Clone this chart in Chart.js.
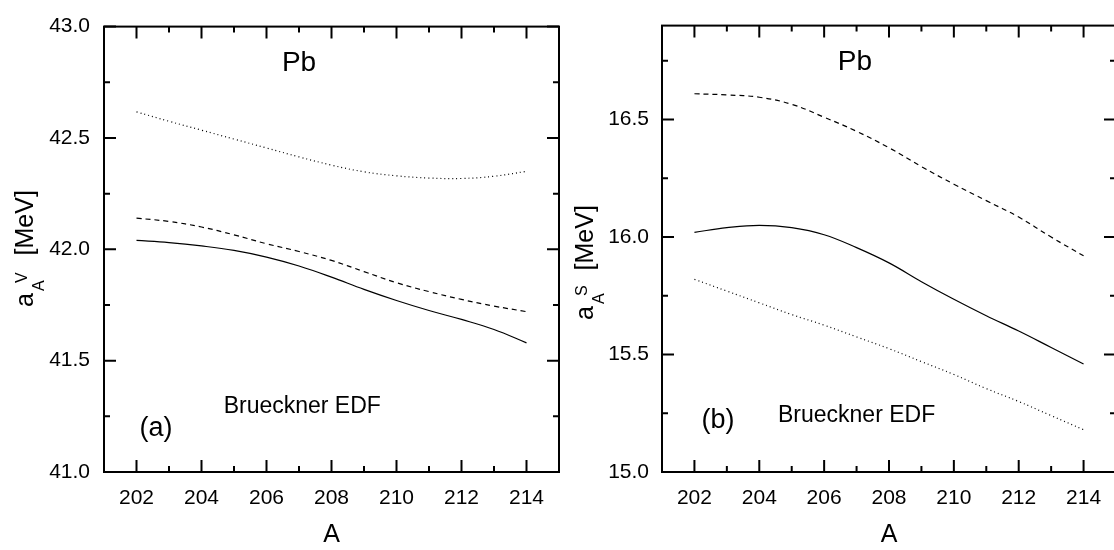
<!DOCTYPE html>
<html>
<head>
<meta charset="utf-8">
<script src="https://cdn.jsdelivr.net/npm/chart.js@4.4.1/dist/chart.umd.min.js"></script>
<style>
  html, body { margin: 0; padding: 0; background: #fff; overflow: hidden; }
  #chartA { position: absolute; left: 0; top: 0; }
  #chartB { position: absolute; left: 560px; top: 0; }
</style>
</head>
<body>
<canvas id="chartA" width="570" height="550"></canvas>
<canvas id="chartB" width="570" height="550"></canvas>
<script>
// mass numbers of the Pb isotopes
var massNumbers = [202, 203, 204, 205, 206, 207, 208, 209, 210, 211, 212, 213, 214];

// (a) volume coefficient a_A^V [MeV]
var volSolid  = [42.04, 42.03, 42.015, 41.995, 41.965, 41.925, 41.875, 41.82, 41.77, 41.725, 41.685, 41.64, 41.58];
var volDashed = [42.14, 42.125, 42.1, 42.065, 42.025, 41.99, 41.95, 41.9, 41.85, 41.81, 41.775, 41.745, 41.72];
var volDotted = [42.617, 42.575, 42.535, 42.495, 42.455, 42.415, 42.378, 42.348, 42.33, 42.32, 42.318, 42.328, 42.35];

// (b) surface coefficient a_A^S [MeV]
var surfSolid  = [16.02, 16.04, 16.05, 16.04, 16.01, 15.955, 15.89, 15.81, 15.735, 15.665, 15.6, 15.53, 15.46];
var surfDashed = [16.61, 16.605, 16.595, 16.565, 16.51, 16.45, 16.38, 16.3, 16.225, 16.155, 16.085, 16.0, 15.92];
var surfDotted = [15.82, 15.77, 15.72, 15.67, 15.625, 15.575, 15.525, 15.47, 15.415, 15.355, 15.3, 15.24, 15.18];

// tick labels
var xTicks = [202, 204, 206, 208, 210, 212, 214];
var volTicks = [41.0, 41.5, 42.0, 42.5, 43.0];
var surfTicks = [15.0, 15.5, 16.0, 16.5];

var FONT = "'Liberation Sans', Arial, sans-serif";

function toPoints(ys) {
    return massNumbers.map(function (a, i) { return { x: a, y: ys[i] }; });
}

function curve(ys, dash) {
    return {
        data: toPoints(ys),
        borderColor: '#000',
        borderWidth: 1.2,
        borderDash: dash,
        pointRadius: 0,
        fill: false,
        tension: 0.4
    };
}

// box round the plot with inward ticks on all four sides
var framePlugin = {
    id: 'frame',
    afterDraw: function (chart) {
        var ctx = chart.ctx, a = chart.chartArea;
        var xs = chart.scales.x, ys = chart.scales.y;
        ctx.save();
        ctx.strokeStyle = '#000';
        ctx.lineWidth = 2;
        ctx.strokeRect(a.left, a.top, a.right - a.left, a.bottom - a.top);
        ctx.beginPath();
        for (var v = Math.ceil(xs.min); v <= xs.max; v++) {
            var len = (v % 2 === 0) ? 12 : 6;
            var px = xs.getPixelForValue(v);
            ctx.moveTo(px, a.bottom); ctx.lineTo(px, a.bottom - len);
            ctx.moveTo(px, a.top); ctx.lineTo(px, a.top + len);
        }
        for (var k = Math.ceil(ys.min / 0.25 - 1e-9); k * 0.25 <= ys.max + 1e-9; k++) {
            var l2 = (k % 2 === 0) ? 12 : 6;
            var py = ys.getPixelForValue(k * 0.25);
            ctx.moveTo(a.left, py); ctx.lineTo(a.left + l2, py);
            ctx.moveTo(a.right, py); ctx.lineTo(a.right - l2, py);
        }
        ctx.stroke();
        ctx.restore();
    }
};

// y axis title with sub/superscript, plus the notes inside the plot
var textPlugin = {
    id: 'panelText',
    afterDraw: function (chart, args, opts) {
        var ctx = chart.ctx, xs = chart.scales.x, ys = chart.scales.y;
        ctx.save();
        ctx.fillStyle = '#000';
        ctx.textAlign = 'center';
        ctx.textBaseline = 'middle';
        opts.notes.forEach(function (n) {
            ctx.font = n.size + 'px ' + FONT;
            ctx.fillText(n.text, xs.getPixelForValue(n.x), ys.getPixelForValue(n.y));
        });

        // rotated title
        var t = opts.title;
        ctx.translate(t.baseX, t.centerY);
        ctx.rotate(-Math.PI / 2);
        ctx.textAlign = 'left';
        ctx.textBaseline = 'alphabetic';
        ctx.font = '25px ' + FONT;
        var x0 = t.start;
        ctx.fillText('a', x0, 0);
        var xSub = x0 + ctx.measureText('a').width + 2;
        ctx.font = '16px ' + FONT;
        ctx.fillText('A', xSub, 11);
        var xSup = xSub + 8;
        ctx.fillText(t.sup, xSup, -6);
        var xRest = xSup + ctx.measureText(t.sup).width + t.gap;
        ctx.font = '25px ' + FONT;
        ctx.fillText('[MeV]', xRest, 0);
        ctx.restore();
    }
};

function makeChart(id, sets, yMin, yMax, yTicks, yWidth, rightPad, yPad, plotText) {
    return new Chart(document.getElementById(id), {
        type: 'line',
        data: { datasets: sets },
        plugins: [framePlugin, textPlugin],
        options: {
            responsive: false,
            animation: false,
            layout: { padding: { top: 18, right: rightPad, bottom: 0, left: 0 } },
            plugins: {
                legend: { display: false },
                tooltip: { enabled: false },
                panelText: plotText
            },
            scales: {
                x: {
                    type: 'linear',
                    min: 201,
                    max: 215,
                    afterFit: function (s) { s.height = 78; },
                    afterBuildTicks: function (s) { s.ticks = xTicks.map(function (v) { return { value: v }; }); },
                    grid: { display: false, drawTicks: false },
                    border: { display: false },
                    ticks: { color: '#000', font: { size: 21, family: FONT }, padding: 14, maxRotation: 0 },
                    title: { display: true, text: 'A', color: '#000', font: { size: 25, family: FONT }, padding: 0 }
                },
                y: {
                    min: yMin,
                    max: yMax,
                    afterFit: function (s) { s.width = yWidth; },
                    afterBuildTicks: function (s) { s.ticks = yTicks.map(function (v) { return { value: v }; }); },
                    grid: { display: false, drawTicks: false },
                    border: { display: false },
                    ticks: {
                        color: '#000',
                        font: { size: 21, family: FONT },
                        padding: yPad,
                        callback: function (v) { return Number(v).toFixed(1); }
                    }
                }
            }
        }
    });
}

makeChart('chartA',
    [curve(volSolid, []), curve(volDashed, [5, 4]), curve(volDotted, [1, 3])],
    41.0, 43.0, volTicks, 104, 11, 14,
    {
        notes: [
            { text: 'Pb', x: 207.0, y: 42.835, size: 28 },
            { text: '(a)', x: 202.6, y: 41.195, size: 27 },
            { text: 'Brueckner EDF', x: 207.1, y: 41.295, size: 23 }
        ],
        title: { baseX: 33, centerY: 247, start: -60, sup: 'V', gap: 17 }
    });

makeChart('chartB',
    [curve(surfSolid, []), curve(surfDashed, [5, 4]), curve(surfDotted, [1, 3])],
    15.0, 16.9, surfTicks, 102, 14, 13,
    {
        notes: [
            { text: 'Pb', x: 206.95, y: 16.745, size: 28 },
            { text: '(b)', x: 202.73, y: 15.218, size: 27 },
            { text: 'Brueckner EDF', x: 207.0, y: 15.24, size: 23 }
        ],
        title: { baseX: 33, centerY: 262, start: -58, sup: 'S', gap: 15 }
    });
</script>
</body>
</html>
